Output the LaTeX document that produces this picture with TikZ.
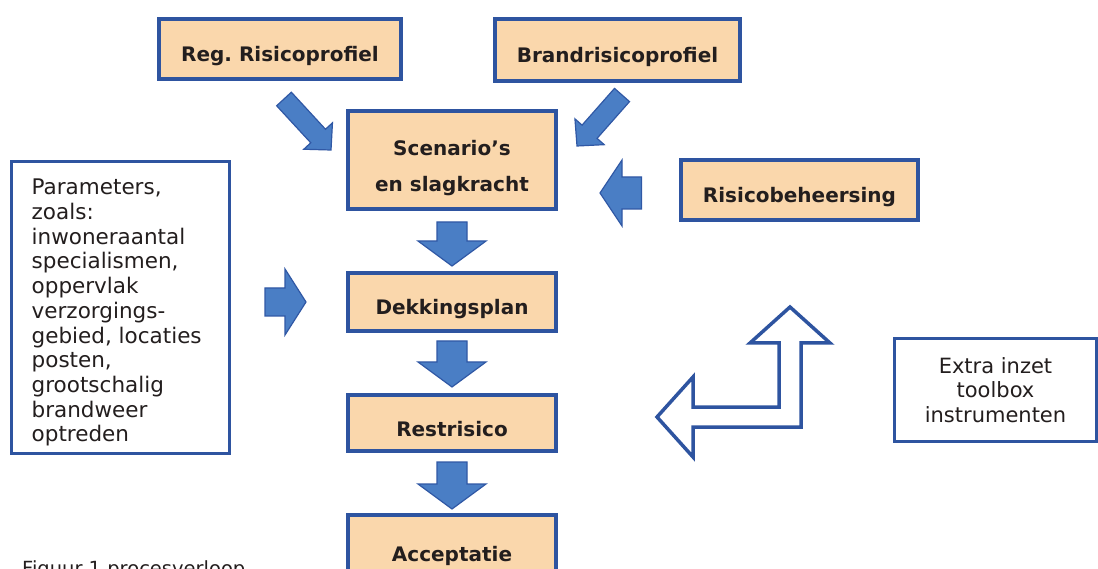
\documentclass[tikz,border=0pt]{standalone}
\usepackage{fontspec}
\setmainfont{DejaVu Sans}
\usetikzlibrary{calc}
\definecolor{bd}{RGB}{46,84,160}
\definecolor{peach}{RGB}{250,215,172}
\definecolor{afill}{RGB}{74,126,197}
\definecolor{abd}{RGB}{48,88,165}
\definecolor{txt}{RGB}{35,30,30}
% #1 tail, #2 tip, #3 shaft half width, #4 head half width, #5 head length
\newcommand\blkarrow[5]{%
  \coordinate (bt) at #1;
  \coordinate (bp) at #2;
  \coordinate (bh) at ($(bp)!#5!(bt)$);
  \draw[blockarrow] ($(bt)!#3!90:(bp)$) -- ($(bh)!#3!90:(bp)$) -- ($(bh)!#4!90:(bp)$)
     -- (bp) -- ($(bh)!#4!-90:(bp)$) -- ($(bh)!#3!-90:(bp)$) -- ($(bt)!#3!-90:(bp)$) -- cycle;}
\frenchspacing
\begin{document}
\begin{tikzpicture}[x=1pt,y=-1pt,
  pbox/.style={draw=bd, line width=4pt, fill=peach, text=txt,
    font=\bfseries\fontsize{20}{36}\selectfont, align=center, inner sep=0pt},
  oneline/.style={text height=30pt, text depth=4pt},
  wbox/.style={draw=bd, line width=3pt, fill=white, inner sep=0pt},
  rtext/.style={text=txt, font=\fontsize{21.5}{24.7}\selectfont, inner sep=0pt},
  blockarrow/.style={draw=abd, fill=afill, line width=1.2pt, line join=miter},
  outarrow/.style={draw=bd, line width=3.5pt, fill=white, line join=miter}]
\useasboundingbox (0,0) rectangle (1098,569);

% boxes
\node[pbox, oneline, minimum width=242pt, minimum height=60pt] (reg) at (280,49) {Reg. Risicoprofiel};
\node[pbox, oneline, minimum width=245pt, minimum height=62pt] (brand) at (617.5,50) {Brandrisicoprofiel};
\node[pbox, minimum width=208pt, minimum height=98pt] (scen) at (452,160) {\rule{0pt}{31pt}Scenario’s\\en slagkracht};
\node[pbox, oneline, minimum width=237pt, minimum height=60pt] (risb) at (799.5,190) {Risicobeheersing};
\node[pbox, oneline, minimum width=208pt, minimum height=58pt] (dek) at (452,302) {Dekkingsplan};
\node[pbox, oneline, minimum width=208pt, minimum height=56pt] (rest) at (452,423) {Restrisico};
\node[pbox, text height=26pt, text depth=4pt, minimum width=208pt, minimum height=70pt] (acc) at (452,550) {Acceptatie};

\node[wbox, minimum width=218pt, minimum height=292pt] (par) at (120.5,307.5) {};
\node[rtext, anchor=north west, align=left] (partxt) at ($(par.north west)+(21.5,19)$)
  {Parameters,\\zoals:\\inwoneraantal\\specialismen,\\oppervlak\\verzorgings-\\gebied, locaties\\posten,\\grootschalig\\brandweer\\optreden};

\node[wbox, rtext, align=center, minimum width=202pt, minimum height=103pt,
  font=\fontsize{21}{24.5}\selectfont] (extra) at (995.5,390) {Extra inzet\\toolbox\\instrumenten};

\node[rtext, anchor=base west, font=\fontsize{19.5}{24}\selectfont] (cap) at (22,575) {Figuur 1 procesverloop};

% block arrows
\blkarrow{($(reg.south)+(4,18)$)}{($(scen.north west)+(-15,41)$)}{10pt}{19.5pt}{19pt}
\blkarrow{($(brand.south)+(4.5,12)$)}{($(scen.north east)+(19,37)$)}{10pt}{19.5pt}{19pt}
\blkarrow{($(risb.west)+(-37.5,3)$)}{($(scen.east)+(42,33)$)}{16pt}{33pt}{22pt}
\blkarrow{($(par.east)+(34,-5.5)$)}{($(dek.west)+(-40,0)$)}{14pt}{33pt}{21pt}
\blkarrow{($(scen.south)+(0,11)$)}{($(dek.north)+(0,-5)$)}{15pt}{34pt}{25pt}
\blkarrow{($(dek.south)+(0,8)$)}{($(rest.north)+(0,-6)$)}{15pt}{34pt}{25pt}
\blkarrow{($(rest.south)+(0,9)$)}{($(acc.north)+(0,-4)$)}{15pt}{34pt}{25pt}

% outline bent arrow
\draw[outarrow] (657,417) -- (693,377) -- (693,407) -- (779,407) -- (779,343) -- (750,343)
  -- (790,307) -- (830,343) -- (801,343) -- (801,427) -- (693,427) -- (693,457) -- cycle;
\end{tikzpicture}
\end{document}
